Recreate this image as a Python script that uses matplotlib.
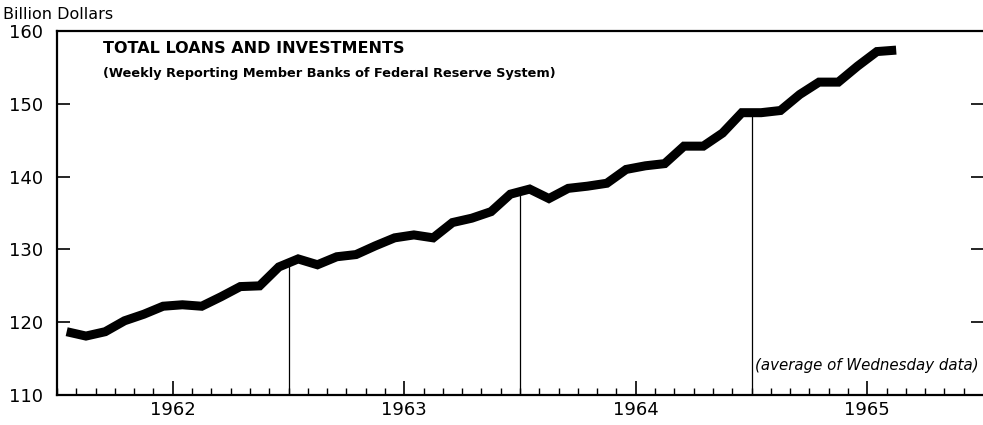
import numpy as np
import matplotlib
matplotlib.use("Agg")
import matplotlib.pyplot as plt
from matplotlib.ticker import FixedLocator

# Monthly averages, July 1961 - February 1965 (billion dollars)
loans = [118.7, 118.1, 118.7, 120.2, 121.1, 122.2,   # Jul-Dec 1961
         122.4, 122.2, 123.5, 124.9, 125.0, 127.6,   # Jan-Jun 1962
         128.7, 127.9, 129.0, 129.3, 130.5, 131.6,   # Jul-Dec 1962
         132.0, 131.6, 133.7, 134.3, 135.2, 137.6,   # Jan-Jun 1963
         138.3, 137.0, 138.4, 138.7, 139.1, 141.0,   # Jul-Dec 1963
         141.5, 141.8, 144.2, 144.2, 146.0, 148.8,   # Jan-Jun 1964
         148.8, 149.1, 151.3, 153.0, 153.0, 155.2,   # Jul-Dec 1964
         157.2, 157.4]                               # Jan-Feb 1965
start_year = 1961.5          # July 1961
years = [1962, 1963, 1964, 1965]
mid_years = [1962.5, 1963.5, 1964.5]
y_ticks = [110, 120, 130, 140, 150, 160]

# points sit at mid-month
x = start_year + (np.arange(len(loans)) + 0.5) / 12.0

plt.rcParams['font.family'] = ['DejaVu Sans']

fig = plt.figure(figsize=(9.83, 4.25), dpi=100)
ax = fig.add_axes([0.058, 0.0706, 0.942, 0.856])

ax.plot(x, loans, color='black', linewidth=6.5, solid_capstyle='butt',
        solid_joinstyle='miter', zorder=3)

# thin verticals at mid-year, up to the curve
for xm in mid_years:
    ax.plot([xm, xm], [110, np.interp(xm, x, loans)], color='black',
            linewidth=0.9, zorder=2)

ax.set_xlim(1961.5, 1965.5)
ax.set_ylim(110, 160)

for side in ['left', 'bottom', 'top']:
    ax.spines[side].set_linewidth(1.6)
ax.spines['right'].set_visible(False)

ax.set_yticks(y_ticks)
ax.set_yticklabels([str(v) for v in y_ticks], fontsize=13)
ax.tick_params(axis='y', direction='in', length=9, width=1.2, right=True,
               labelright=False, pad=10)

ax.set_xticks(years)
ax.set_xticklabels([str(v) for v in years], fontsize=13)
ax.xaxis.set_minor_locator(FixedLocator(np.arange(1961.5, 1965.5, 1 / 12.0)))
ax.tick_params(axis='x', which='major', direction='in', length=10, width=1.2, pad=4)
ax.tick_params(axis='x', which='minor', direction='in', length=5, width=1.0)

fig.text(0.003, 0.965, "Billion Dollars", fontsize=11.5, ha='left', va='center')

ax.text(0.05, 0.953, "TOTAL LOANS AND INVESTMENTS", transform=ax.transAxes,
        fontsize=11.5, fontweight='bold', ha='left', va='center')
ax.text(0.05, 0.885, "(Weekly Reporting Member Banks of Federal Reserve System)",
        transform=ax.transAxes, fontsize=9.3, fontweight='bold', ha='left', va='center')
ax.text(0.995, 0.08, "(average of Wednesday data)", transform=ax.transAxes,
        fontsize=10.8, fontstyle='italic', ha='right', va='center')

fig.savefig("out.png", dpi=100)
